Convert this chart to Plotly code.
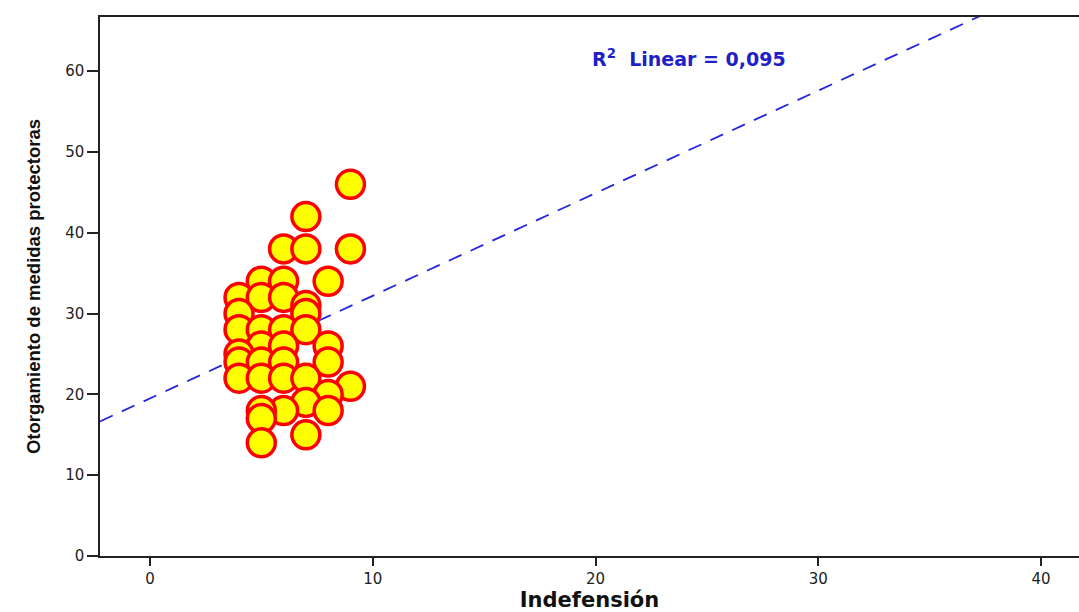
import plotly.graph_objects as go
import numpy as np

# Data
indefension = [9, 7, 6, 7, 9, 5, 6, 8, 4, 5, 6, 4, 7, 7, 4, 5, 6, 7,
               5, 6, 8, 4, 4, 5, 6, 8, 4, 5, 6, 7, 9, 8, 7, 8, 6, 5, 5, 7, 5]
otorgamiento = [46, 42, 38, 38, 38, 34, 34, 34, 32, 32, 32, 30, 31, 30, 28, 28, 28, 28,
                26, 26, 26, 25, 24, 24, 24, 24, 22, 22, 22, 22, 21, 20, 19, 18, 18, 18, 17, 15, 14]

# Fit line
fit_intercept = 19.5
fit_slope = 1.27
r2_text = "R<sup>2</sup>  Linear = 0,095"

x_range = [-2.24, 41.7]
y_range = [0, 66.7]
x_ticks = [0, 10, 20, 30, 40]
y_ticks = [0, 10, 20, 30, 40, 50, 60]

fig = go.Figure()

line_x = np.array(x_range)
line_y = fit_intercept + fit_slope * line_x
fig.add_trace(go.Scatter(
    x=line_x, y=line_y, mode="lines",
    line=dict(color="#2525dd", width=1.8, dash="14px,10px"),
    hoverinfo="skip", showlegend=False))

fig.add_trace(go.Scatter(
    x=indefension, y=otorgamiento, mode="markers",
    marker=dict(symbol="circle", size=28, color="#ffff00",
                line=dict(color="#ff0000", width=3.5)),
    showlegend=False))

fig.add_annotation(
    x=24.2, y=61.6, xref="x", yref="y", text="<b>" + r2_text + "</b>",
    showarrow=False, font=dict(family="DejaVu Sans", size=19, color="#1f1fc8"))

tick_font = dict(family="DejaVu Sans", size=15, color="#222222")

fig.update_layout(
    width=1079, height=612,
    margin=dict(l=100, r=0, t=17, b=56),
    paper_bgcolor="white", plot_bgcolor="white",
    font=dict(family="DejaVu Sans", color="#222222"),
    xaxis=dict(
        range=x_range, tickvals=x_ticks, showgrid=False, zeroline=False,
        showline=True, linecolor="#222222", linewidth=1.5, mirror=True,
        ticks="outside", ticklen=8, tickwidth=1.5, tickcolor="#222222",
        tickfont=tick_font,
        title=dict(text="<b>Indefensión</b>", standoff=10,
                   font=dict(family="DejaVu Sans", size=21, color="#111111"))),
    yaxis=dict(
        range=y_range, tickvals=y_ticks, showgrid=False, zeroline=False,
        showline=True, linecolor="#222222", linewidth=1.5, mirror=False,
        ticks="outside", ticklen=11, tickwidth=1.5, tickcolor="#222222",
        tickfont=tick_font,
        title=dict(text="<b>Otorgamiento de medidas protectoras</b>", standoff=20,
                   font=dict(family="Liberation Sans Narrow, Liberation Sans", size=18.5, color="#111111"))),
)

fig.write_html("out.html")
